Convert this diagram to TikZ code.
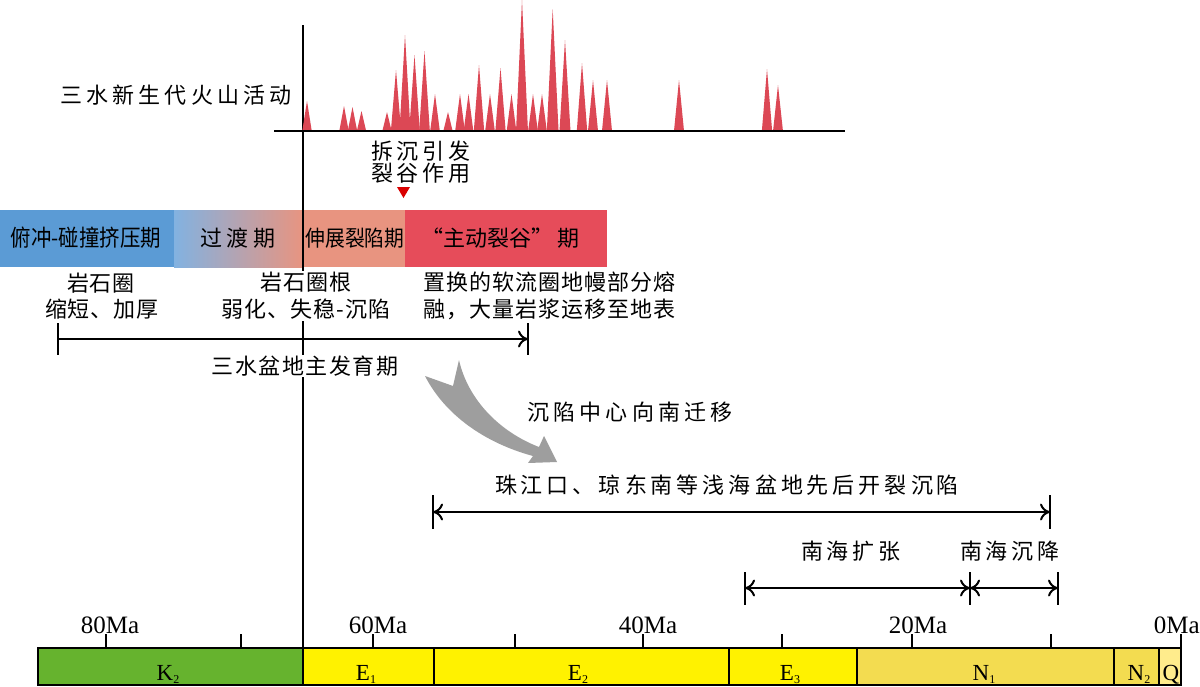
\documentclass[tikz,border=0pt]{standalone}
\usepackage{fontspec}
\setmainfont{Liberation Serif}
\newfontfamily\cjk{Noto Sans CJK SC}
\usetikzlibrary{arrows.meta}
\makeatletter
\newcommand\lsp[2]{\def\lsp@g{#1}\@tfor\lsp@c:=#2\do{\lsp@c\hspace{\lsp@g}}\unskip}
\makeatother
\newcommand\sbs[1]{\raisebox{-0.3ex}{\fontsize{12}{12}\selectfont #1}}
\definecolor{volc}{RGB}{220,72,85}
\definecolor{cblue}{RGB}{91,155,213}
\definecolor{cgl}{RGB}{130,178,225}
\definecolor{csal}{RGB}{232,148,128}
\definecolor{cred}{RGB}{230,76,90}
\definecolor{cgray}{RGB}{158,158,158}
\definecolor{cgreen}{RGB}{102,179,46}
\definecolor{cyel}{RGB}{255,242,0}
\definecolor{cyel2}{RGB}{243,220,80}
\definecolor{cyel3}{RGB}{255,236,140}
\tikzset{
  cj/.style={font=\cjk\fontsize{22}{26}\selectfont, inner sep=0pt},
  tl/.style={font=\fontsize{25}{27}\selectfont, inner sep=0pt},
  seg/.style={font=\fontsize{23}{25}\selectfont, inner sep=0pt},
  ln/.style={line width=2pt},
  tipA/.tip={To[length=10pt,width=17pt]},
  rarr/.style={line width=2pt, -tipA},
  darr/.style={line width=2pt, tipA-tipA},
  wbg/.style={fill=white, inner sep=1pt},
}
\begin{document}
\begin{tikzpicture}[x=1pt,y=-1pt]
\useasboundingbox (0,0) rectangle (1200,686);
\fill[white] (0,0) rectangle (1200,686);

% phase bar
\fill[cblue] (0,210) rectangle (174,267);
\shade[left color=cgl, right color=csal] (174,210) rectangle (303,267);
\fill[csal] (303,210) rectangle (405,267);
\fill[cred] (405,210) rectangle (607,267);

% main vertical line
\coordinate (vtop) at (303,25);
\coordinate (vbot) at (303,648);
\draw[ln] (vtop) -- (vbot);

% volcanic peaks
\foreach \x/\t in {307/101, 344/106, 352.5/107, 361.5/111, 387/112, 396/70, 405/35, 414.5/55, 424.5/51, 435/94, 448/112, 460/94, 468.5/94, 479/65, 490/94, 500.5/68, 511.5/94, 522/0, 533/94, 542/94, 552.7/9, 565/40, 582/63, 593/80, 607/80, 679/80, 767/69, 778/85}{
  \pgfmathsetmacro\w{4.4+(131-\t)*0.012}
  \fill[volc] (\x-\w,131) -- (\x,\t) -- (\x+\w,131) -- cycle;}
\coordinate (b1) at (274,131);
\coordinate (b2) at (845,131);
\draw[ln] (b1) -- (b2);

\node[cj] (volt) at (176,95) {\lsp{4.2pt}{三水新生代火山活动}};

\node[cj] (chai) at (421,151) {\lsp{4pt}{拆沉引发}};
\node[cj] (lie) at (421,173) {\lsp{4pt}{裂谷作用}};
\fill[red!85!black] (397,187) -- (410,187) -- (403.5,198) -- cycle;

% bar labels
\node[cj] (p1) at (86,238) {\scalebox{0.93}[1.05]{俯冲-碰撞挤压期}};
\node[cj] (p2) at (238,238) {\lsp{5pt}{过渡期}};
\node[cj] (p3) at (355,238) {\scalebox{0.9}[1]{伸展裂陷期}};
\node[cj, anchor=west] (p4) at (421,238) {“主动裂谷”\hspace{4pt}期};

% below bar
\node[cj] (l1a) at (101,283) {\lsp{1pt}{岩石圈}};
\node[cj] (l1b) at (102,309) {\lsp{1pt}{缩短、加厚}};
\node[cj, wbg, align=center] (l2) at (306,296) {\lsp{1pt}{岩石圈根}\\[1pt]\lsp{1pt}{弱化、失稳-沉陷}};
\node[cj, align=left, anchor=west] (l3) at (423,296) {\lsp{1pt}{置换的软流圈地幔部分熔}\\[1pt]\lsp{1pt}{融，大量岩浆运移至地表}};

% main development arrow
\coordinate (m1) at (58,339);
\coordinate (m2) at (528,339);
\draw[ln] (58,323) -- (58,355);
\draw[ln] (528,323) -- (528,355);
\draw[rarr] (m1) -- (m2);
\node[cj, wbg] (dev) at (305,366) {\lsp{1.5pt}{三水盆地主发育期}};

% gray curved arrow
\fill[cgray] (425,376) .. controls (445,415) and (485,443) .. (533,456) -- (528,463) -- (557,462) -- (544,436) -- (539,447) .. controls (500,432) and (468,400) .. (459,360) -- (453,386) -- cycle;
\node[cj] (mig) at (630,412) {\lsp{4.2pt}{沉陷中心向南迁移}};

% shallow basins
\node[cj] (sh) at (727,485) {\lsp{4pt}{珠江口、琼东南等浅海盆地先后开裂沉陷}};
\coordinate (s1) at (433,512);
\coordinate (s2) at (1050,512);
\draw[ln] (433,495) -- (433,529);
\draw[ln] (1050,495) -- (1050,529);
\draw[darr] (s1) -- (s2);

\node[cj] (kz) at (851,551) {\lsp{4pt}{南海扩张}};
\node[cj] (cj2) at (1010,551) {\lsp{4pt}{南海沉降}};
\coordinate (k1) at (745,588);
\coordinate (k2) at (970,588);
\coordinate (k3) at (1058,588);
\foreach \xx in {745,970,1058} \draw[ln] (\xx,572) -- (\xx,605);
\draw[darr] (k1) -- (k2);
\draw[darr] (k2) -- (k3);

% timescale
\draw[ln, fill=cgreen] (38,648) rectangle (303,685);
\draw[ln, fill=cyel] (303,648) rectangle (434,685);
\draw[ln, fill=cyel] (434,648) rectangle (729,685);
\draw[ln, fill=cyel] (729,648) rectangle (857,685);
\draw[ln, fill=cyel2] (857,648) rectangle (1114,685);
\draw[ln, fill=cyel2] (1114,648) rectangle (1159,685);
\draw[ln, fill=cyel3] (1159,648) rectangle (1181,685);
\foreach \xx in {106,241,373,515,643,782,912,1051,1181} \draw[ln] (\xx,634) -- (\xx,648);
\node[tl, anchor=base] (t80) at (110,633) {80Ma};
\node[tl, anchor=base] (t60) at (378,633) {60Ma};
\node[tl, anchor=base] (t40) at (648,633) {40Ma};
\node[tl, anchor=base] (t20) at (918,633) {20Ma};
\node[tl, anchor=base east] (t0) at (1200,633) {0Ma};
\node[seg, anchor=base] (K2) at (168,680) {K\sbs{2}};
\node[seg, anchor=base] (E1) at (366,680) {E\sbs{1}};
\node[seg, anchor=base] (E2) at (578,680) {E\sbs{2}};
\node[seg, anchor=base] (E3) at (790,680) {E\sbs{3}};
\node[seg, anchor=base] (N1) at (984,680) {N\sbs{1}};
\node[seg, anchor=base] (N2) at (1139,680) {N\sbs{2}};
\node[seg, anchor=base] (Q) at (1171,680) {Q};
\end{tikzpicture}
\end{document}
